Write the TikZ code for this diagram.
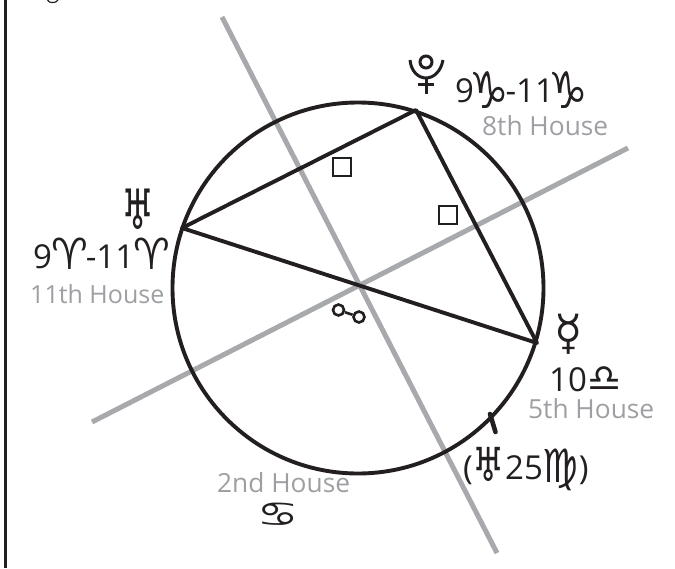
\documentclass[tikz,border=0pt]{standalone}
\usepackage{fontspec}
\setmainfont{Open Sans}
\newfontfamily\sym{DejaVu Sans}
\definecolor{ink}{HTML}{231F20}
\definecolor{gr}{HTML}{A7A9AC}
\definecolor{hs}{HTML}{9D9FA2}
\newcommand{\sgr}[4]{\raisebox{#4}{\scalebox{1}[#2]{\sym\fontsize{#1}{#1}\selectfont #3}}}
\tikzset{
  x=1pt,y=-1pt,
  inkline/.style={draw=ink,line width=3.9pt},
  grline/.style={draw=gr,line width=5pt},
  aspect/.style={draw=ink,line width=2.6pt},
  val/.style={inner sep=0pt,text=ink,font=\fontsize{33}{33}\selectfont,anchor=base},
  house/.style={inner sep=0pt,text=hs,font=\fontsize{26.3}{26}\selectfont,anchor=base},
  glyph/.style={inner sep=0pt,text=ink,anchor=center},
}
\begin{document}
\begin{tikzpicture}
\useasboundingbox (0,0) rectangle (675,568);
\draw[draw=ink,line width=3.6pt] (5.5,0) -- (5.5,568);
\draw[ink,line width=1.2pt] (47.5,0) .. controls (49,3.5) and (56,3.5) .. (58,0);
\coordinate (c) at (358,288);
\coordinate (gA) at (222,17);
\coordinate (gB) at (497,553);
\coordinate (gC) at (92,422);
\coordinate (gD) at (628,148);
\draw[grline] (gA) -- (gB);
\draw[grline] (gC) -- (gD);
\draw[inkline] (c) circle[radius=185.5];
\coordinate (ura) at (182,228);
\coordinate (plu) at (416,110);
\coordinate (mer) at (537,343);
\draw[inkline,line join=round] (ura) -- (plu) -- (mer) -- cycle;
\node[aspect,draw,minimum size=18pt,inner sep=0pt] (sqA) at (342,167) {};
\node[aspect,draw,minimum size=18pt,inner sep=0pt] (sqB) at (448,215) {};
% opposition
\node[aspect,draw,circle,minimum size=11pt,inner sep=0pt] (opA) at (338.5,310) {};
\node[aspect,draw,circle,minimum size=11pt,inner sep=0pt] (opB) at (359,317) {};
\draw[aspect] (opA) -- (opB);
% tick
\coordinate (tkA) at (490,414);
\coordinate (tkB) at (495.5,432);
\draw[draw=ink,line width=4.6pt,line cap=round] (tkA) -- (tkB);
% Pluto glyph
\node[draw=ink,line width=3pt,circle,minimum size=12pt,inner sep=0pt] (pluC) at (426,62) {};
\draw[ink,line width=3pt] (410,60) .. controls (411,71) and (418,78) .. (426,78) .. controls (434,78) and (441,71) .. (443,60);
\draw[ink,line width=3pt] (426,78) -- (426,94);
\draw[ink,line width=3pt] (418,84.5) -- (434,84.5);
% Uranus
\node[glyph] (uraG) at (138,209) {\sgr{37}{1.5}{♅}{0pt}};
\node[val,anchor=base west] (uraV) at (33,268) {9\kern-1pt\sgr{41}{1.05}{♈}{-1pt}\kern-2pt-11\kern-1pt\sgr{41}{1.05}{♈}{-1pt}};
\node[house,anchor=base west,font=\fontsize{25}{25}\selectfont] (uraH) at (30,303) {11th House};
% Pluto text
\node[val,anchor=base west] (pluV) at (455,102) {9\kern-5pt\sgr{44}{1.15}{♑}{-6pt}\kern-3pt-11\kern-5pt\sgr{44}{1.15}{♑}{-6pt}};
\node[house,anchor=base west] (pluH) at (482,135) {8th House};
% Mercury
\node[glyph] (merG) at (569,334) {\sgr{46}{1.05}{☿}{0pt}};
\node[val,anchor=base west] (merV) at (549,391) {10};
\node[val,anchor=base west,font=\sym\fontsize{38}{38}\selectfont] (merS) at (587,391) {♎};
\node[house,anchor=base west] (merH) at (528,418) {5th House};
% Uranus 25 Virgo
\node[val,anchor=base west] (vir) at (463,479) {(\sgr{36}{1.3}{♅}{-2pt}25\sgr{40}{1.15}{♍}{-3pt})};
% cancer
\node[house,anchor=base west] (canH) at (217,492) {2nd House};
\node[glyph] (canG) at (278,515) {\sgr{46}{0.75}{♋}{0pt}};
\end{tikzpicture}
\end{document}
